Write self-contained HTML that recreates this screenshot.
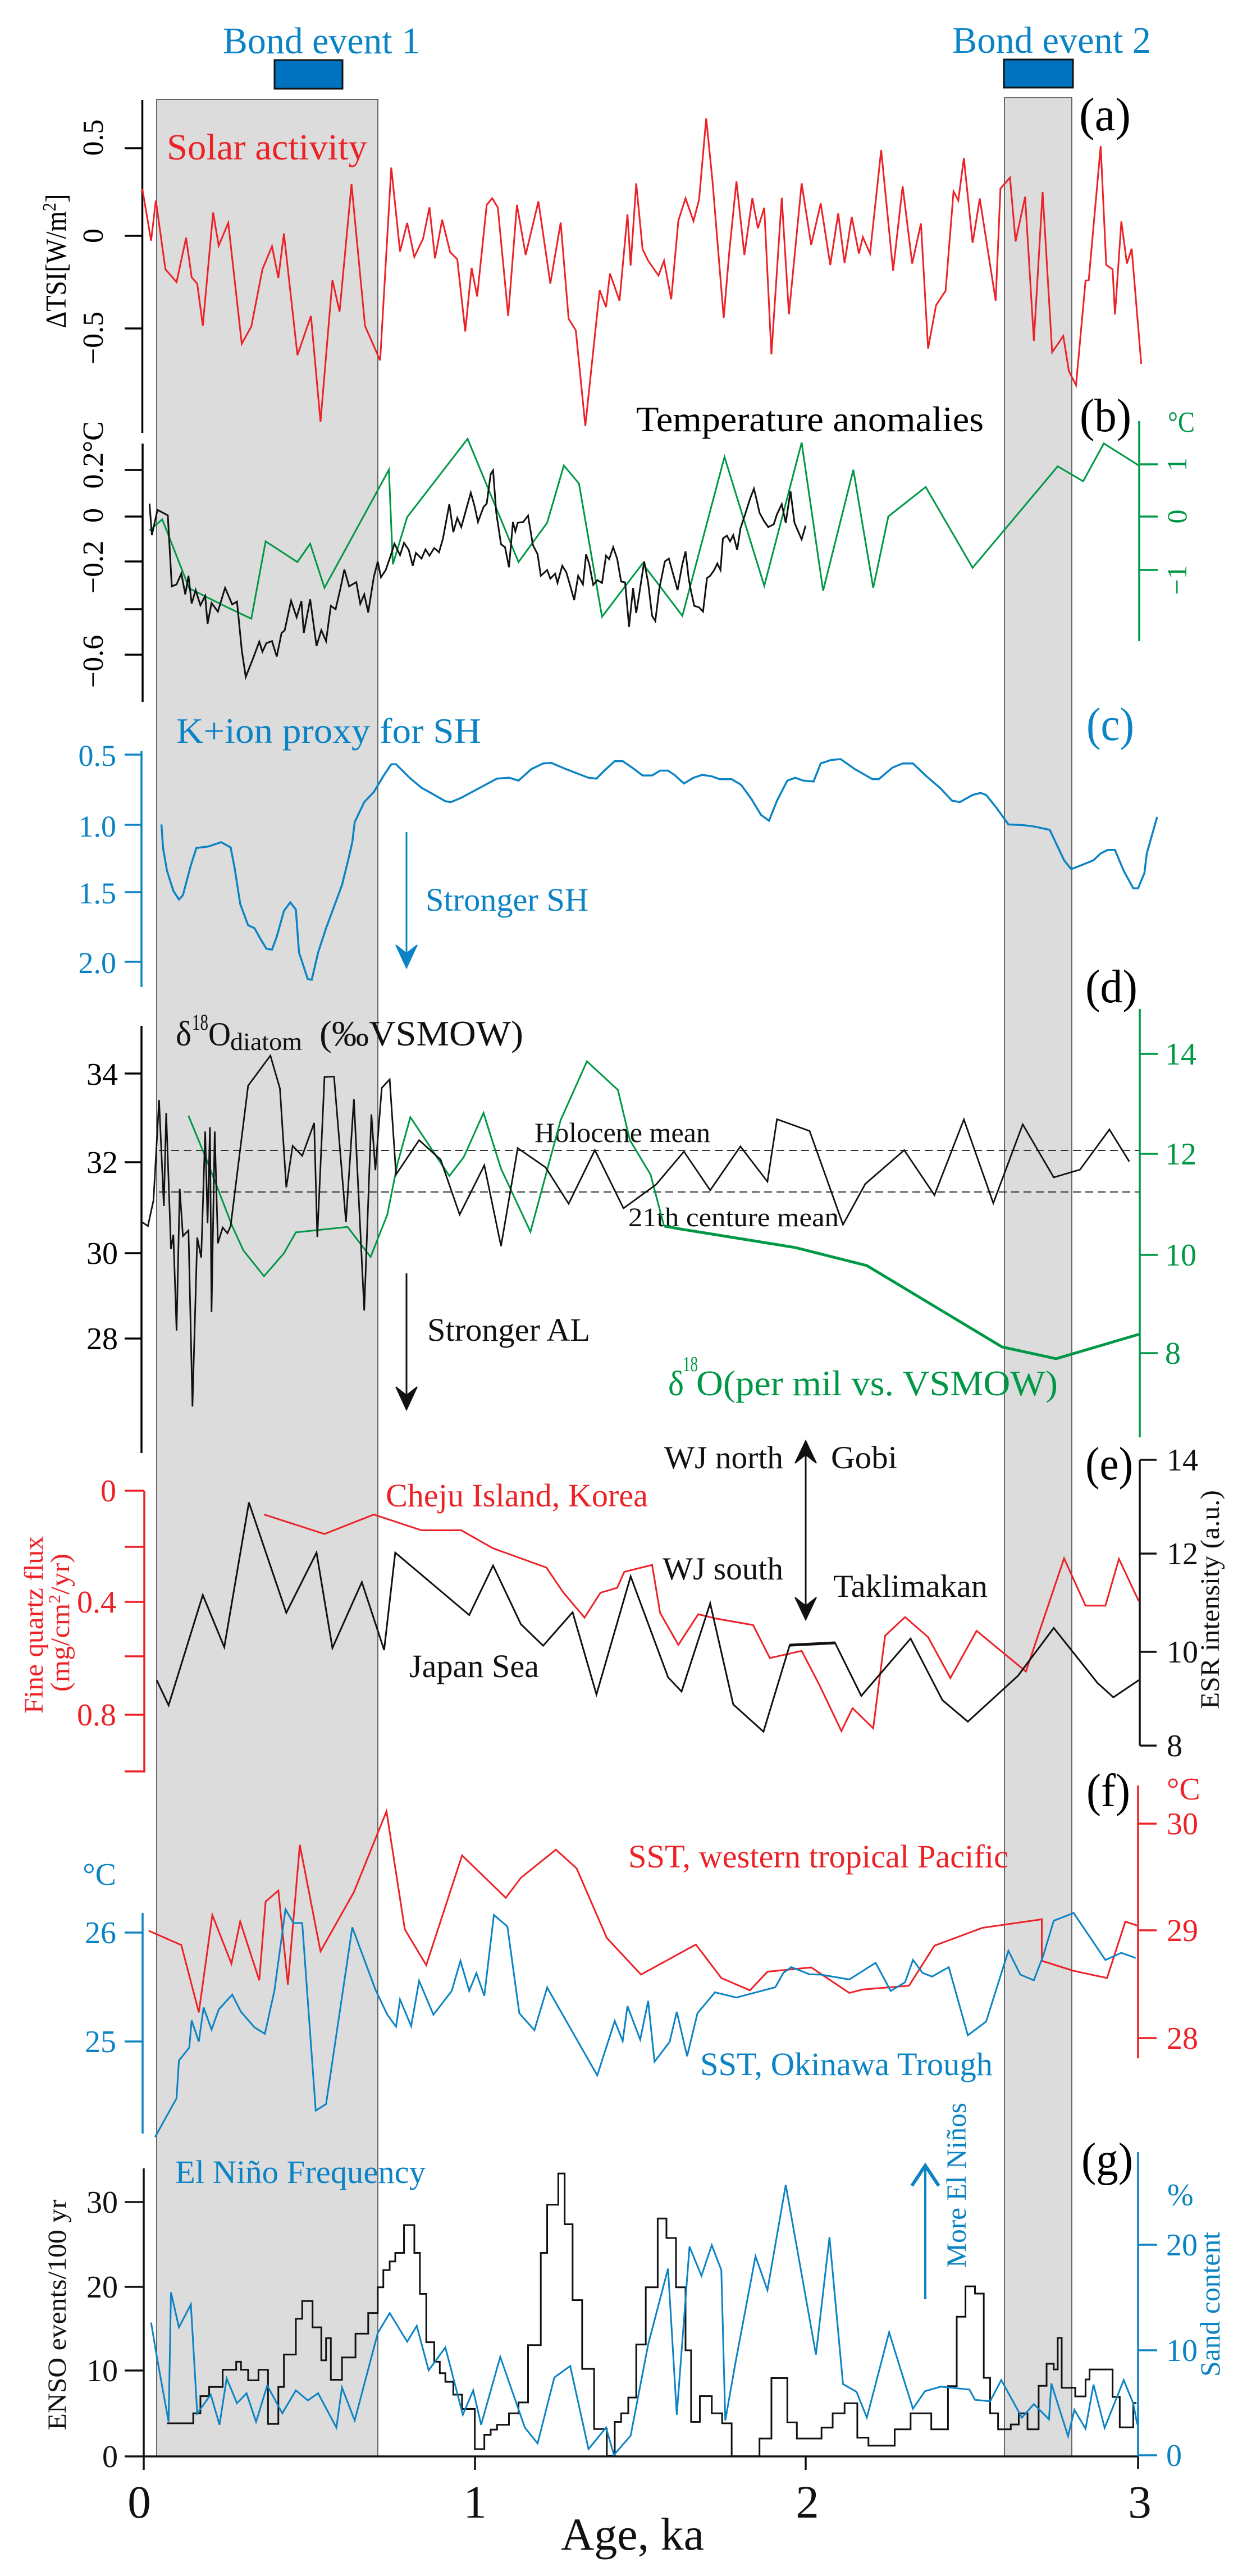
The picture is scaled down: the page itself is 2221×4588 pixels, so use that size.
<!DOCTYPE html>
<html>
<head>
<meta charset="utf-8">
<style>
html,body{margin:0;padding:0;background:#fff;}
svg{display:block;}
svg, text, tspan{font-family:"Liberation Serif","Times New Roman",serif;}
.ns{vector-effect:non-scaling-stroke;fill:none;stroke-linejoin:miter;}
</style>
</head>
<body>
<svg xmlns="http://www.w3.org/2000/svg" width="2221" height="4588" viewBox="0 0 2221 4588" font-family="'Liberation Serif', 'Times New Roman', serif">
<rect x="0" y="0" width="2221" height="4588" fill="#fff"/>

<!-- Gray bands -->
<rect x="279" y="177" width="394" height="4198" fill="#dcdcdc" stroke="#3a3a3a" stroke-width="1.5"/>
<rect x="1789" y="174" width="120" height="4201" fill="#dcdcdc" stroke="#3a3a3a" stroke-width="1.5"/>

<!-- Bond events -->
<text x="397" y="95" font-size="67" fill="#0b83c4" textLength="351" lengthAdjust="spacingAndGlyphs">Bond event 1</text>
<text x="1696" y="94" font-size="67" fill="#0b83c4" textLength="354" lengthAdjust="spacingAndGlyphs">Bond event 2</text>
<rect x="489" y="107" width="121" height="51" fill="#0072c0" stroke="#111" stroke-width="3"/>
<rect x="1788" y="106" width="123" height="50" fill="#0072c0" stroke="#111" stroke-width="3"/>

<!-- ============ Panel (a) ============ -->
<g fill="none" stroke="#000" stroke-width="3.5">
<line x1="253.5" y1="178" x2="253.5" y2="771"/>
<line x1="222" y1="264" x2="253" y2="264"/>
<line x1="222" y1="420" x2="253" y2="420"/>
<line x1="222" y1="585" x2="253" y2="585"/>
</g>
<g font-size="52" fill="#000" text-anchor="middle">
<text transform="translate(183,245) rotate(-90)">0.5</text>
<text transform="translate(183,420) rotate(-90)">0</text>
<text transform="translate(183,602) rotate(-90)">−0.5</text>
<text transform="translate(117,465) rotate(-90)" textLength="239" lengthAdjust="spacingAndGlyphs">ΔTSI[W/m<tspan dy="-18" font-size="34">2</tspan><tspan dy="18">]</tspan></text>
</g>
<text x="297" y="284" font-size="66" fill="#ec2227" textLength="357" lengthAdjust="spacingAndGlyphs">Solar activity</text>
<text x="1922" y="232" font-size="84" fill="#000" textLength="92" lengthAdjust="spacingAndGlyphs">(a)</text>
<g transform="matrix(1.41645 0 0 0.510204 0 0)">
<polyline class="ns" stroke="#ec2227" stroke-width="3" points="179,660 190,840 196,700 208,940 222,985 234,830 241,968 248,990 255,1137 268,742 275,858 287,778 304,1200 316,1140 330,940 342,860 350,970 357,815 374,1240 391,1103 403,1473 418,978 427,1088 442,643 459,1138 478,1258 492,585 503,878 512,778 521,897 532,833 540,724 547,902 556,767 566,880 575,905 585,1157 593,935 600,1035 612,715 619,692 626,725 639,1103 650,715 661,890 677,703 692,990 705,777 715,1113 724,1153 736,1487 754,1013 762,1072 767,955 779,1050 789,748 793,927 800,640 808,870 815,910 828,962 835,910 844,1045 853,770 862,692 872,772 879,697 888,413 896,635 910,1110 917,880 926,633 936,890 946,692 953,797 961,725 970,1237 983,690 992,1097 1008,640 1020,855 1032,710 1044,925 1054,745 1062,918 1071,757 1080,885 1085,828 1094,885 1108,524 1123,945 1135,650 1147,920 1158,780 1167,1217 1177,1066 1189,1015 1199,668 1205,700 1212,552 1223,848 1232,693 1252,1050 1258,658 1270,620 1277,843 1289,687 1300,1190 1311,670 1323,1230 1337,1173 1344,1295 1353,1345 1365,980 1369,978 1384,510 1391,925 1399,940 1402,1098 1410,773 1417,920 1423,868 1435,1270"/>
</g>

<!-- ============ Panel (b) ============ -->
<g fill="none" stroke="#000" stroke-width="3.5">
<line x1="254" y1="790" x2="254" y2="1250"/>
<line x1="222" y1="837" x2="254" y2="837"/>
<line x1="222" y1="920" x2="254" y2="920"/>
<line x1="222" y1="1000" x2="254" y2="1000"/>
<line x1="222" y1="1085" x2="254" y2="1085"/>
<line x1="222" y1="1166" x2="254" y2="1166"/>
</g>
<g font-size="52" fill="#000" text-anchor="middle">
<text transform="translate(183,778) rotate(-90)">°C</text>
<text transform="translate(183,838) rotate(-90)">0.2</text>
<text transform="translate(183,918) rotate(-90)">0</text>
<text transform="translate(183,1010) rotate(-90)">−0.2</text>
<text transform="translate(183,1178) rotate(-90)">−0.6</text>
</g>
<g fill="none" stroke="#009846" stroke-width="3.5">
<line x1="2029" y1="750" x2="2029" y2="1142"/>
<line x1="2029" y1="827" x2="2062" y2="827"/>
<line x1="2029" y1="920" x2="2062" y2="920"/>
<line x1="2029" y1="1015" x2="2062" y2="1015"/>
</g>
<g font-size="50" fill="#009846" text-anchor="middle">
<text transform="translate(2113,827) rotate(-90)">1</text>
<text transform="translate(2113,920) rotate(-90)">0</text>
<text transform="translate(2113,1033) rotate(-90)">−1</text>
</g>
<text x="2080" y="769" font-size="52" fill="#009846" textLength="48" lengthAdjust="spacingAndGlyphs">°C</text>
<text x="1133" y="768" font-size="64" fill="#000" textLength="619" lengthAdjust="spacingAndGlyphs">Temperature anomalies</text>
<text x="1923" y="768" font-size="84" fill="#000" textLength="92" lengthAdjust="spacingAndGlyphs">(b)</text>
<g transform="matrix(1.41645 0 0 0.510204 0 750)">
<polyline class="ns" stroke="#009846" stroke-width="3" points="188,382 204,343 238,584 282,645 316,690 334,420 374,492 390,428 408,582 489,170 494,500 512,335 588,62 652,492 688,355 709,155 728,218 757,683 808,497 858,680 911,125 961,575 1008,75 1035,592 1073,170 1098,582 1117,333 1164,230 1223,512 1330,158 1362,210 1388,78 1432,155"/>
<polyline class="ns" stroke="#111" stroke-width="3" points="188,288 191,398 198,310 211,329 216,577 222,570 228,532 233,605 237,540 241,637 246,590 252,643 258,610 261,708 266,635 274,665 283,582 292,640 298,630 304,800 309,893 318,830 326,770 330,805 335,775 342,768 348,822 354,740 358,730 366,627 373,685 379,628 382,740 390,622 398,785 404,730 410,768 416,645 422,657 428,585 433,518 439,577 448,562 453,638 458,605 463,668 470,545 475,490 479,545 485,520 490,480 496,428 503,468 508,425 514,450 519,505 523,460 530,480 535,448 540,470 546,443 552,458 557,410 565,290 570,388 575,338 580,370 586,310 592,250 597,300 601,352 608,300 612,288 617,185 620,172 624,320 630,430 635,440 640,510 645,352 648,385 651,355 658,352 664,330 670,432 676,465 680,540 688,520 692,550 698,533 701,565 707,505 712,527 717,575 722,625 727,540 733,570 737,465 741,500 746,572 751,555 757,565 762,470 766,482 771,440 776,480 781,560 786,563 791,718 796,583 800,670 804,600 810,490 815,565 820,680 824,698 829,585 836,490 841,480 846,530 852,590 858,500 862,455 866,550 869,595 873,645 879,650 884,665 889,548 893,540 898,520 902,497 906,520 909,410 914,400 918,420 922,398 927,450 931,375 937,325 943,272 948,236 952,282 955,320 961,350 966,370 973,360 977,325 983,290 988,355 994,245 999,355 1008,413 1013,365"/>
<!-- panel (c) blue -->
<polyline class="ns" stroke="#0b83c4" stroke-width="3.5" points="203,1408 205,1490 210,1570 218,1640 225,1670 230,1655 240,1550 247,1490 262,1485 278,1470 290,1488 295,1560 302,1685 312,1760 320,1770 328,1810 335,1842 342,1845 348,1800 357,1710 365,1680 372,1705 376,1855 387,1948 392,1950 400,1855 410,1770 420,1695 430,1620 438,1530 443,1470 446,1400 458,1330 470,1295 483,1235 492,1198 498,1198 515,1245 530,1280 545,1303 560,1327 567,1330 580,1315 600,1285 625,1248 640,1245 652,1255 668,1215 683,1195 693,1193 710,1213 740,1245 750,1248 760,1220 773,1187 783,1187 795,1210 808,1237 820,1237 830,1220 840,1220 848,1235 860,1265 872,1245 883,1235 895,1240 905,1250 920,1250 932,1270 945,1320 957,1375 967,1395 977,1325 990,1255 1000,1245 1010,1255 1023,1258 1032,1195 1045,1183 1057,1180 1075,1215 1097,1250 1105,1250 1122,1210 1135,1195 1148,1195 1165,1240 1183,1283 1197,1325 1207,1330 1223,1305 1233,1298 1240,1305 1253,1350 1268,1408 1285,1410 1300,1415 1320,1427 1338,1533 1347,1564 1362,1548 1375,1533 1384,1509 1393,1497 1402,1497 1413,1570 1425,1631 1431,1631 1439,1578 1442,1509 1455,1382"/>
</g>

<!-- ============ Panel (c) ============ -->
<g fill="none" stroke="#0b83c4" stroke-width="3.5">
<line x1="252" y1="1338" x2="252" y2="1758"/>
<line x1="222" y1="1344" x2="252" y2="1344"/>
<line x1="222" y1="1469" x2="252" y2="1469"/>
<line x1="222" y1="1589" x2="252" y2="1589"/>
<line x1="222" y1="1713" x2="252" y2="1713"/>
</g>
<g font-size="54" fill="#0b83c4" text-anchor="end">
<text x="207" y="1364">0.5</text>
<text x="207" y="1490">1.0</text>
<text x="207" y="1609">1.5</text>
<text x="207" y="1733">2.0</text>
</g>
<text x="314" y="1323" font-size="63" fill="#0b83c4" textLength="543" lengthAdjust="spacingAndGlyphs">K+ion proxy for SH</text>
<text x="1935" y="1318" font-size="84" fill="#0b83c4" textLength="85" lengthAdjust="spacingAndGlyphs">(c)</text>
<text x="758" y="1622" font-size="58" fill="#0b83c4" textLength="290" lengthAdjust="spacingAndGlyphs">Stronger SH</text>
<line x1="724" y1="1482" x2="724" y2="1700" stroke="#0b83c4" stroke-width="3"/>
<path d="M724,1724 L705,1683 L724,1698 L743,1683 Z" fill="#0b83c4" stroke="#0b83c4" stroke-width="2"/>

<!-- ============ Panel (d) ============ -->
<g fill="none" stroke="#000" stroke-width="3.5">
<line x1="252" y1="1827" x2="252" y2="2588"/>
<line x1="222" y1="1912" x2="252" y2="1912"/>
<line x1="222" y1="2070" x2="252" y2="2070"/>
<line x1="222" y1="2232" x2="252" y2="2232"/>
<line x1="222" y1="2384" x2="252" y2="2384"/>
</g>
<g font-size="56" fill="#000" text-anchor="end">
<text x="210" y="1932">34</text>
<text x="210" y="2089">32</text>
<text x="210" y="2251">30</text>
<text x="210" y="2403">28</text>
</g>
<g fill="none" stroke="#009846" stroke-width="3.5">
<line x1="2030" y1="1797" x2="2030" y2="2560"/>
<line x1="2030" y1="1877" x2="2062" y2="1877"/>
<line x1="2030" y1="2055" x2="2062" y2="2055"/>
<line x1="2030" y1="2235" x2="2062" y2="2235"/>
<line x1="2030" y1="2410" x2="2062" y2="2410"/>
</g>
<g font-size="56" fill="#009846">
<text x="2075" y="1896">14</text>
<text x="2075" y="2074">12</text>
<text x="2075" y="2254">10</text>
<text x="2075" y="2429">8</text>
</g>
<text x="1933" y="1785" font-size="84" fill="#000" textLength="93" lengthAdjust="spacingAndGlyphs">(d)</text>
<text x="313" y="1862" font-size="62" fill="#111" textLength="28" lengthAdjust="spacingAndGlyphs">δ</text>
<text x="342" y="1834" font-size="40" fill="#111" textLength="29" lengthAdjust="spacingAndGlyphs">18</text>
<text x="371" y="1862" font-size="60" fill="#111" textLength="40" lengthAdjust="spacingAndGlyphs">O</text>
<text x="410" y="1870" font-size="44" fill="#111" textLength="128" lengthAdjust="spacingAndGlyphs">diatom</text>
<text x="569" y="1862" font-size="64" fill="#111" textLength="363" lengthAdjust="spacingAndGlyphs">(‰VSMOW)</text>
<g stroke="#333" stroke-width="2" stroke-dasharray="14,8">
<line x1="283" y1="2049" x2="2028" y2="2049"/>
<line x1="283" y1="2123" x2="2028" y2="2123"/>
</g>
<text x="952" y="2034" font-size="50" fill="#111" textLength="313" lengthAdjust="spacingAndGlyphs">Holocene mean</text>
<text x="1119" y="2184" font-size="48" fill="#111" textLength="375" lengthAdjust="spacingAndGlyphs">21th centure mean</text>
<g transform="matrix(1.41645 0 0 0.510204 0 1500)">
<polyline class="ns" stroke="#009846" stroke-width="3" points="237,955 260,1110 292,1340 306,1425 332,1515 357,1435 372,1362 437,1343 466,1448 487,1300 500,1120 516,960 540,1060 565,1165 583,1100 608,945 630,1140 667,1360 705,970 738,765 777,865 792,1040 818,1160 835,1340"/>
<polyline class="ns" stroke="#009846" stroke-width="5" points="835,1340 855,1350 1000,1415 1090,1478 1260,1762 1328,1803 1432,1718"/>
<polyline class="ns" stroke="#111" stroke-width="2.8" points="178,1325 186,1340 193,1250 200,900 206,1270 209,945 215,1420 218,1370 222,1705 226,1210 230,1375 237,1355 242,1970 248,1380 253,1450 258,1010 261,1330 264,995 266,1640 270,1010 274,1400 280,1345 286,1365 290,1340 312,850 340,745 352,860 360,1205 368,1060 380,1095 395,980 399,1378 408,820 420,818 435,1325 445,897 458,1635 467,950 472,1145 480,858 490,828 498,1160 527,1040 554,1108 578,1300 609,1128 630,1410 651,1068 686,1135 715,1262 748,1075 784,1278 825,1195 860,1080 893,1215 931,1062 965,1185 977,967 1018,1008 1060,1335 1088,1193 1137,1075 1175,1232 1212,968 1249,1260 1286,985 1325,1170 1358,1143 1395,1003 1420,1115"/>
</g>
<text x="761" y="2388" font-size="58" fill="#111" textLength="290" lengthAdjust="spacingAndGlyphs">Stronger AL</text>
<line x1="724" y1="2268" x2="724" y2="2490" stroke="#111" stroke-width="3"/>
<path d="M724,2511 L705,2470 L724,2485 L743,2470 Z" fill="#111" stroke="#111" stroke-width="2"/>
<text x="1190" y="2485" font-size="62" fill="#009846" textLength="28" lengthAdjust="spacingAndGlyphs">δ</text>
<text x="1216" y="2442" font-size="38" fill="#009846" textLength="27" lengthAdjust="spacingAndGlyphs">18</text>
<text x="1240" y="2485" font-size="64" fill="#009846" textLength="644" lengthAdjust="spacingAndGlyphs">O(per mil vs. VSMOW)</text>

<!-- ============ Panel (e) ============ -->
<g fill="none" stroke="#ec2227" stroke-width="3.5">
<line x1="257" y1="2655" x2="257" y2="3157"/>
<line x1="222" y1="2655" x2="257" y2="2655"/>
<line x1="222" y1="2755" x2="257" y2="2755"/>
<line x1="222" y1="2853" x2="257" y2="2853"/>
<line x1="222" y1="2950" x2="257" y2="2950"/>
<line x1="222" y1="3054" x2="257" y2="3054"/>
<line x1="222" y1="3155" x2="257" y2="3155"/>
</g>
<g font-size="56" fill="#ec2227" text-anchor="end">
<text x="207" y="2674">0</text>
<text x="207" y="2872">0.4</text>
<text x="207" y="3073">0.8</text>
</g>
<g font-size="48" fill="#ec2227" text-anchor="middle">
<text transform="translate(76,2894) rotate(-90)" textLength="316" lengthAdjust="spacingAndGlyphs">Fine quartz flux</text>
<text transform="translate(123,2890) rotate(-90)" textLength="246" lengthAdjust="spacingAndGlyphs">(mg/cm<tspan dy="-16" font-size="30">2</tspan><tspan dy="16">/yr)</tspan></text>
</g>
<g fill="none" stroke="#111" stroke-width="3.5">
<line x1="2030" y1="2600" x2="2030" y2="3109"/>
<line x1="2030" y1="2600" x2="2060" y2="2600"/>
<line x1="2030" y1="2767" x2="2060" y2="2767"/>
<line x1="2030" y1="2942" x2="2060" y2="2942"/>
<line x1="2030" y1="3109" x2="2060" y2="3109"/>
</g>
<g font-size="56" fill="#111">
<text x="2078" y="2619">14</text>
<text x="2078" y="2786">12</text>
<text x="2078" y="2961">10</text>
<text x="2078" y="3128">8</text>
</g>
<text transform="translate(2171,2849) rotate(-90)" text-anchor="middle" font-size="48" fill="#111" textLength="390" lengthAdjust="spacingAndGlyphs">ESR intensity (a.u.)</text>
<text x="1933" y="2635" font-size="84" fill="#000" textLength="85" lengthAdjust="spacingAndGlyphs">(e)</text>
<text x="1183" y="2615" font-size="57" fill="#111" textLength="212" lengthAdjust="spacingAndGlyphs">WJ north</text>
<text x="1480" y="2615" font-size="57" fill="#111" textLength="118" lengthAdjust="spacingAndGlyphs">Gobi</text>
<text x="1180" y="2813" font-size="57" fill="#111" textLength="215" lengthAdjust="spacingAndGlyphs">WJ south</text>
<text x="1484" y="2844" font-size="57" fill="#111" textLength="275" lengthAdjust="spacingAndGlyphs">Taklimakan</text>
<text x="729" y="2987" font-size="58" fill="#111" textLength="231" lengthAdjust="spacingAndGlyphs">Japan Sea</text>
<text x="687" y="2683" font-size="58" fill="#ec2227" textLength="467" lengthAdjust="spacingAndGlyphs">Cheju Island, Korea</text>
<line x1="1435" y1="2585" x2="1435" y2="2866" stroke="#111" stroke-width="3"/>
<path d="M1435,2566 L1416,2606 L1435,2591 L1454,2606 Z" fill="#111" stroke="#111" stroke-width="2"/>
<path d="M1435,2885 L1416,2845 L1435,2860 L1454,2845 Z" fill="#111" stroke="#111" stroke-width="2"/>
<g transform="matrix(1.41645 0 0 0.510204 0 2250)">
<polyline class="ns" stroke="#ec2227" stroke-width="3" points="332,877 408,945 470,877 530,932 580,932 620,995 687,1062 708,1148 735,1237 755,1150 776,1133 785,1077 820,1053 830,1220 853,1332 878,1225 900,1240 947,1263 968,1378 1008,1353 1030,1470 1058,1633 1072,1553 1098,1623 1105,1470 1113,1300 1138,1235 1167,1305 1195,1448 1228,1283 1290,1425 1338,1030 1365,1195 1390,1195 1407,1032 1432,1180"/>
<polyline class="ns" stroke="#111" stroke-width="3" points="197,1455 212,1543 255,1158 282,1340 313,835 360,1220 398,1010 418,1343 455,1113 483,1350 497,1010 590,1228 620,1055 655,1260 683,1335 720,1218 750,1505 793,1093 840,1445 857,1495 893,1187 922,1540 960,1635 993,1333 1050,1325 1083,1510 1145,1310 1185,1525 1217,1600 1280,1440 1325,1273 1380,1465 1400,1515 1432,1455"/>
<polyline class="ns" stroke="#111" stroke-width="5" points="993,1333 1050,1325"/>
</g>

<!-- ============ Panel (f) ============ -->
<g fill="none" stroke="#0b83c4" stroke-width="3.5">
<line x1="254" y1="3407" x2="254" y2="3800"/>
<line x1="222" y1="3442" x2="254" y2="3442"/>
<line x1="222" y1="3636" x2="254" y2="3636"/>
</g>
<g font-size="56" fill="#0b83c4" text-anchor="end">
<text x="207" y="3357">°C</text>
<text x="207" y="3461">26</text>
<text x="207" y="3655">25</text>
</g>
<g fill="none" stroke="#ec2227" stroke-width="3.5">
<line x1="2027" y1="3180" x2="2027" y2="3666"/>
<line x1="2027" y1="3248" x2="2060" y2="3248"/>
<line x1="2027" y1="3438" x2="2060" y2="3438"/>
<line x1="2027" y1="3630" x2="2060" y2="3630"/>
</g>
<g font-size="56" fill="#ec2227">
<text x="2078" y="3205">°C</text>
<text x="2078" y="3267">30</text>
<text x="2078" y="3457">29</text>
<text x="2078" y="3649">28</text>
</g>
<text x="1935" y="3217" font-size="84" fill="#000" textLength="78" lengthAdjust="spacingAndGlyphs">(f)</text>
<text x="1119" y="3326" font-size="58" fill="#ec2227" textLength="677" lengthAdjust="spacingAndGlyphs">SST, western tropical Pacific</text>
<text x="1247" y="3696" font-size="58" fill="#0b83c4" textLength="521" lengthAdjust="spacingAndGlyphs">SST, Okinawa Trough</text>
<g transform="matrix(1.41645 0 0 0.510204 0 3000)">
<polyline class="ns" stroke="#ec2227" stroke-width="3" points="187,860 228,910 250,1145 267,805 291,975 302,828 326,1033 334,758 350,720 362,1048 377,560 403,932 445,725 486,443 509,855 536,980 581,597 636,745 655,675 699,577 725,642 763,885 806,1013 875,908 907,1025 943,1068 965,1003 1020,988 1068,1077 1085,1065 1143,1052 1175,912 1235,850 1310,820 1310,965 1350,1000 1392,1025 1415,828 1430,842"/>
<polyline class="ns" stroke="#0b83c4" stroke-width="3" points="195,1580 222,1445 225,1313 238,1268 241,1173 250,1247 256,1128 266,1205 275,1135 292,1083 303,1143 320,1197 333,1220 345,1070 359,785 369,833 380,833 397,1488 410,1465 443,848 472,1065 487,1153 498,1195 503,1100 517,1193 527,1035 545,1153 568,1070 579,965 590,1070 599,1008 609,1087 621,805 638,845 653,1148 672,1207 688,1058 751,1365 773,1175 783,1245 789,1123 805,1240 815,1105 823,1317 842,1248 851,1143 864,1298 877,1148 899,1075 926,1093 975,1057 985,1007 995,987 1018,1012 1032,1013 1068,1030 1101,972 1120,1070 1138,1040 1148,962 1160,1007 1172,1020 1193,987 1217,1225 1240,1177 1268,930 1283,1013 1300,1033 1312,945 1325,825 1350,798 1390,962 1410,937 1428,955"/>
</g>

<!-- ============ Panel (g) ============ -->
<g fill="none" stroke="#111" stroke-width="3.5">
<line x1="256" y1="3862" x2="256" y2="4399"/>
<line x1="222" y1="3922" x2="256" y2="3922"/>
<line x1="222" y1="4073" x2="256" y2="4073"/>
<line x1="222" y1="4222" x2="256" y2="4222"/>
<line x1="222" y1="4375" x2="2028" y2="4375"/>
<line x1="846" y1="4375" x2="846" y2="4399"/>
<line x1="1435" y1="4375" x2="1435" y2="4399"/>
<line x1="2027" y1="4375" x2="2027" y2="4397"/>
</g>
<g font-size="56" fill="#111" text-anchor="end">
<text x="210" y="3941">30</text>
<text x="210" y="4092">20</text>
<text x="210" y="4241">10</text>
<text x="210" y="4394">0</text>
</g>
<text transform="translate(117,4123) rotate(-90)" text-anchor="middle" font-size="47" fill="#111" textLength="411" lengthAdjust="spacingAndGlyphs">ENSO events/100 yr</text>
<g fill="none" stroke="#0b83c4" stroke-width="3.5">
<line x1="2027" y1="3833" x2="2027" y2="4375"/>
<line x1="2027" y1="3998" x2="2061" y2="3998"/>
<line x1="2027" y1="4186" x2="2061" y2="4186"/>
<line x1="2027" y1="4373" x2="2061" y2="4373"/>
</g>
<g font-size="56" fill="#0b83c4">
<text x="2079" y="3928">%</text>
<text x="2077" y="4017">20</text>
<text x="2077" y="4205">10</text>
<text x="2077" y="4392">0</text>
</g>
<text transform="translate(2172,4104) rotate(-90)" text-anchor="middle" font-size="50" fill="#0b83c4" textLength="258" lengthAdjust="spacingAndGlyphs">Sand content</text>
<text transform="translate(1720,3892) rotate(-90)" text-anchor="middle" font-size="50" fill="#0b83c4" textLength="294" lengthAdjust="spacingAndGlyphs">More El Niños</text>
<line x1="1648" y1="3860" x2="1648" y2="4095" stroke="#0b83c4" stroke-width="4"/>
<polyline points="1624,3893 1648,3857 1672,3893" fill="none" stroke="#0b83c4" stroke-width="6"/>
<text x="1926" y="3874" font-size="84" fill="#000" textLength="92" lengthAdjust="spacingAndGlyphs">(g)</text>
<text x="312" y="3888" font-size="58" fill="#0b83c4" textLength="446" lengthAdjust="spacingAndGlyphs">El Niño Frequency</text>
<g transform="matrix(1.41645 0 0 0.510204 0 3788)">
<path class="ns" stroke="#111" stroke-width="3" d="M210,1035 H243 V1000 H252 V940 H263 V908 H280 V848 H297 V820 H303 V848 H312 V885 H325 V848 H337 V1037 H350 V908 H357 V795 H372 V670 H380 V608 H393 V700 H404 V815 H410 V738 H416 V883 H430 V805 H447 V722 H463 V650 H475 V560 H482 V500 H490 V470 H497 V440 H508 V343 H521 V440 H528 V583 H536 V752 H546 V820 H553 V860 H560 V890 H570 V935 H581 V985 H597 V1125 H609 V1075 H617 V1057 H625 V1040 H640 V1000 H652 V962 H664 V762 H680 V440 H688 V272 H702 V163 H710 V340 H720 V605 H732 V845 H747 V1055 H763 V1148 H773 V1030 H781 V1000 H790 V945 H800 V760 H812 V560 H827 V320 H838 V388 H850 V560 H862 V780 H869 V1030 H880 V940 H895 V1000 H908 V1035 H920 V1150 H955 V1088 H970 V877 H990 V1032 H1002 V1088 H1033 V1050 H1047 V1000 H1062 V965 H1078 V1085 H1092 V1113 H1125 V1056 H1145 V1000 H1171 V1056 H1192 V905 H1203 V663 H1214 V557 H1226 V582 H1237 V876 H1245 V1000 H1255 V1056 H1271 V1039 H1281 V1000 H1292 V1056 H1306 V904 H1316 V827 H1325 V847 H1330 V737 H1335 V911 H1352 V941 H1365 V882 H1370 V847 H1399 V943 H1408 V1049 H1425 V964 H1429"/>
<polyline class="ns" stroke="#0b83c4" stroke-width="3" points="190,683 197,800 212,1030 215,578 225,700 240,620 248,1000 265,935 276,1040 285,878 298,965 310,930 322,1030 336,903 355,1000 372,920 387,955 400,930 423,1050 430,910 446,1025 475,720 490,650 512,750 524,695 539,850 560,770 582,1005 595,920 605,1040 629,803 660,1050 676,1105 697,875 717,835 740,1125 762,1050 772,1145 793,1078 815,760 840,495 851,1005 867,418 882,520 895,413 907,500 912,1025 925,820 950,452 965,570 988,203 1026,795 1043,385 1060,898 1077,925 1090,1015 1118,717 1130,825 1148,984 1163,923 1183,907 1219,917 1226,953 1245,958 1259,884 1285,1015 1300,968 1319,1021 1322,896 1343,1080 1351,988 1365,1054 1375,900 1389,1051 1413,884 1425,966 1430,1039"/>
</g>

<!-- X axis labels -->
<g font-size="83" fill="#111" text-anchor="middle">
<text x="248" y="4484">0</text>
<text x="846" y="4484">1</text>
<text x="1438" y="4484">2</text>
<text x="2030" y="4484">3</text>
</g>
<text x="999" y="4541" font-size="82" fill="#111" textLength="255" lengthAdjust="spacingAndGlyphs">Age, ka</text>
</svg>
</body>
</html>
